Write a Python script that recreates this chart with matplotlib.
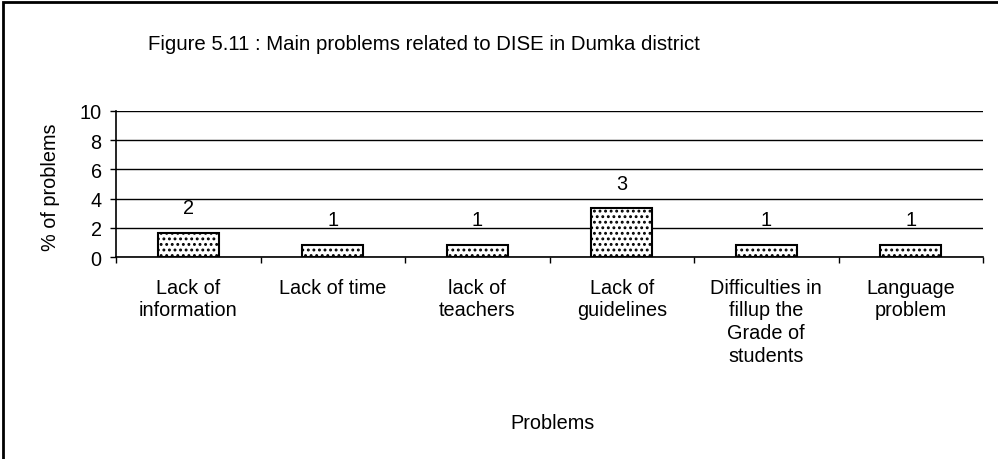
import matplotlib
matplotlib.use("Agg")
import matplotlib.pyplot as plt
from matplotlib.patches import Rectangle

plt.rcParams['font.family'] = ['Liberation Sans', 'DejaVu Sans']
plt.rcParams['hatch.linewidth'] = 1.3

categories = ["Lack of\ninformation", "Lack of time", "lack of\nteachers", "Lack of\nguidelines",
              "Difficulties in\nfillup the\nGrade of\nstudents", "Language\nproblem"]
values = [1.67, 0.83, 0.83, 3.33, 0.83, 0.83]
labels = ["2", "1", "1", "3", "1", "1"]
yticks = [0, 2, 4, 6, 8, 10]

FS = 14.3
W, H = 998, 460
fig = plt.figure(figsize=(W/100, H/100), dpi=100)
ax = fig.add_axes([116/W, 1-258/H, (983-116)/W, (258-112)/H])

x = list(range(len(categories)))
ax.bar(x, values, width=0.42, color='white', edgecolor='black', linewidth=1.5,
       hatch='...', zorder=3)
for xi, v, l in zip(x, values, labels):
    ax.annotate(l, (xi, v), xytext=(0, 14), textcoords='offset points',
                ha='center', va='baseline', fontsize=FS)

ax.set_xlim(-0.5, len(categories)-0.5)
ax.set_ylim(0, 10)
ax.set_yticks(yticks)
ax.tick_params(axis='y', labelsize=FS, length=4.3, width=1, direction='out', pad=6)
ax.set_xticks([i + 0.5 for i in range(-1, len(categories))], minor=True)
ax.set_xticks(x)
ax.set_xticklabels(categories, fontsize=FS, va='top', linespacing=1.24)
ax.tick_params(axis='x', which='major', length=0, pad=15)
ax.tick_params(axis='x', which='minor', length=4.5, width=1, direction='out')
ax.yaxis.grid(True, color='black', linewidth=1, zorder=0)
for s in ['top', 'right']:
    ax.spines[s].set_visible(False)
for s in ['left', 'bottom']:
    ax.spines[s].set_linewidth(1.2)
ax.set_ylabel("% of problems", fontsize=FS)
ax.yaxis.set_label_coords(-56/867, 0.486)

fig.text(424/W, 1-44/H, "Figure 5.11 : Main problems related to DISE in Dumka district",
         ha='center', va='center', fontsize=14.7)
fig.text(552/W, 1-424/H, "Problems", ha='center', va='center', fontsize=FS)

fig.add_artist(Rectangle((3/W, -0.1), 1.2, 1-3/H+0.1, transform=fig.transFigure,
                         fill=False, edgecolor='black', linewidth=2))

fig.savefig("out.png", dpi=100)
